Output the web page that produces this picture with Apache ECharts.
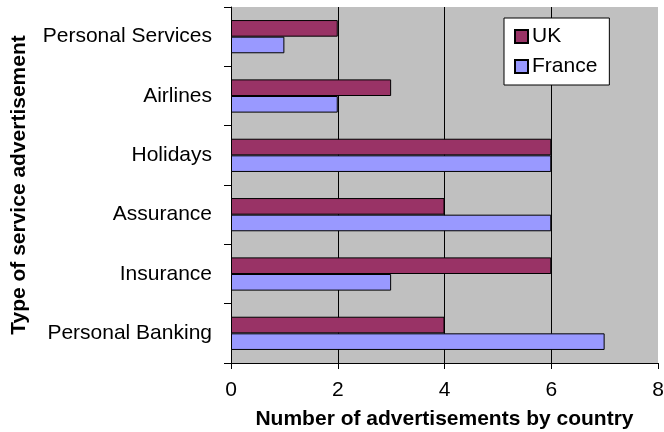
<!DOCTYPE html>
<html><head><meta charset="utf-8">
<script src="https://cdn.jsdelivr.net/npm/echarts@6/dist/echarts.min.js"></script>
<style>html,body{margin:0;padding:0;background:#fff}#c{width:664px;height:432px}</style>
</head><body><div id="c"></div>
<script>
// Categories listed bottom-to-top (ECharts category y-axis starts at bottom)
const categories = ["Personal Banking", "Insurance", "Assurance", "Holidays", "Airlines", "Personal Services"];
const ukValues = [4, 6, 4, 6, 3, 2];
const franceValues = [7, 3, 6, 6, 2, 1];
const xTicks = [0, 2, 4, 6, 8];
const xTitle = "Number of advertisements by country";
const yTitle = "Type of service advertisement";

const font = "Liberation Sans, Arial, sans-serif";
const chart = echarts.init(document.getElementById('c'), null, {renderer: 'canvas'});
chart.setOption({
  animation: false,
  backgroundColor: '#fff',
  textStyle: {fontFamily: font},
  grid: {left: 231, top: 7, right: 6, bottom: 69, show: true, backgroundColor: '#C0C0C0', borderWidth: 0,
         containLabel: false, outerBoundsMode: 'none'},
  legend: {
    orient: 'vertical', left: 504, top: 18,
    backgroundColor: '#fff', borderColor: '#000', borderWidth: 1,
    padding: [8, 12, 8, 10], itemGap: 9, itemWidth: 13, itemHeight: 13, icon: 'rect',
    textStyle: {fontFamily: font, fontSize: 21, color: '#000', padding: [0,0,0,-1]},
    data: [{name: 'UK'}, {name: 'France'}]
  },
  xAxis: {
    type: 'value', min: xTicks[0], max: xTicks[xTicks.length - 1], interval: 2,
    name: xTitle, nameLocation: 'middle', nameGap: 46,
    nameTextStyle: {fontFamily: font, fontSize: 21, fontWeight: 'bold', color: '#000'},
    axisLine: {show: true, lineStyle: {color: '#000', width: 1}},
    axisTick: {show: true, length: 6, lineStyle: {color: '#000'}},
    axisLabel: {fontFamily: font, fontSize: 21, color: '#000', margin: 17},
    splitLine: {show: true, showMaxLine: false, lineStyle: {color: '#000', width: 1}}
  },
  yAxis: {
    type: 'category', data: categories,
    name: yTitle, nameLocation: 'middle', nameGap: 201, nameRotate: 90,
    nameTextStyle: {fontFamily: font, fontSize: 21, fontWeight: 'bold', color: '#000'},
    axisLine: {show: true, lineStyle: {color: '#000', width: 1}},
    axisTick: {show: true, length: 7, lineStyle: {color: '#000'}},
    axisLabel: {fontFamily: font, fontSize: 21, color: '#000', margin: 19, padding: [7, 0, 0, 0]},
    splitLine: {show: false}
  },
  series: [
    {name: 'UK', type: 'bar', data: ukValues, barGap: '0%', barCategoryGap: '44%',
     itemStyle: {color: '#993366', borderColor: '#000', borderWidth: 1}},
    {name: 'France', type: 'bar', data: franceValues, barGap: '0%', barCategoryGap: '44%',
     itemStyle: {color: '#9999FF', borderColor: '#000', borderWidth: 1}}
  ]
});
</script></body></html>
